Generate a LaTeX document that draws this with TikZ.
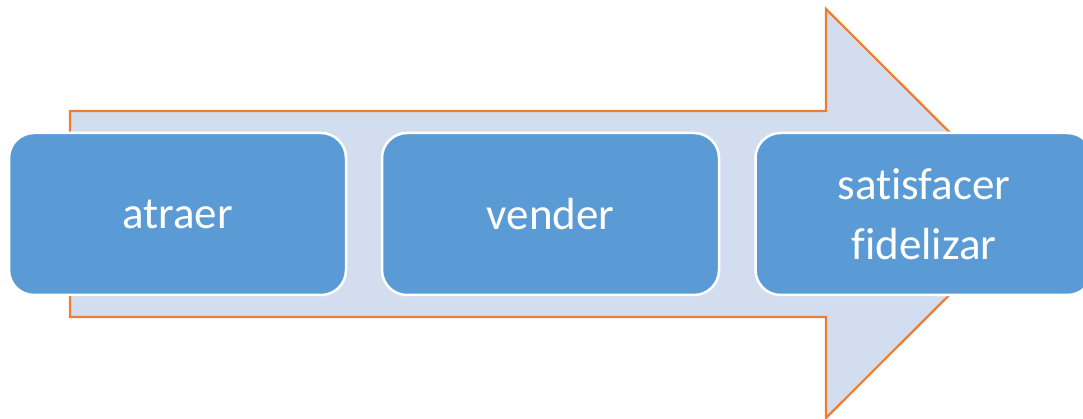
\documentclass[tikz,border=0pt]{standalone}
\usepackage{fontspec}
\setmainfont[Ligatures=NoCommon]{Carlito}
\definecolor{boxblue}{HTML}{5B9BD5}
\definecolor{arrowfill}{HTML}{D2DDEF}
\definecolor{arroworange}{HTML}{ED7D31}
\tikzset{
  stagebox/.style={draw=white, line width=2.5pt, fill=boxblue, rounded corners=25pt,
    minimum width=337pt, minimum height=162pt, text=white, align=center,
    font=\fontsize{45}{60}\selectfont, inner sep=0pt},
  bigarrow/.style={draw=arroworange, line width=2.2pt, fill=arrowfill, line join=miter}
}
\begin{document}
\begin{tikzpicture}[x=1pt,y=-1pt]
  \useasboundingbox (0,0) rectangle (1083,419);
  \clip (0,0) rectangle (1083,419);
  % large block arrow behind the stages
  \draw[bigarrow] (70,111) -- (826,111) -- (826,9) -- (1031,213.5)
    -- (826,418) -- (826,317) -- (70,317) -- cycle;
  % stages
  \node[stagebox] (s1) at (177.5,214) {atraer};
  \node[stagebox] (s2) at (550.5,214) {vender};
  \node[stagebox] (s3) at (924,214) {satisfacer\\fidelizar};
\end{tikzpicture}
\end{document}
